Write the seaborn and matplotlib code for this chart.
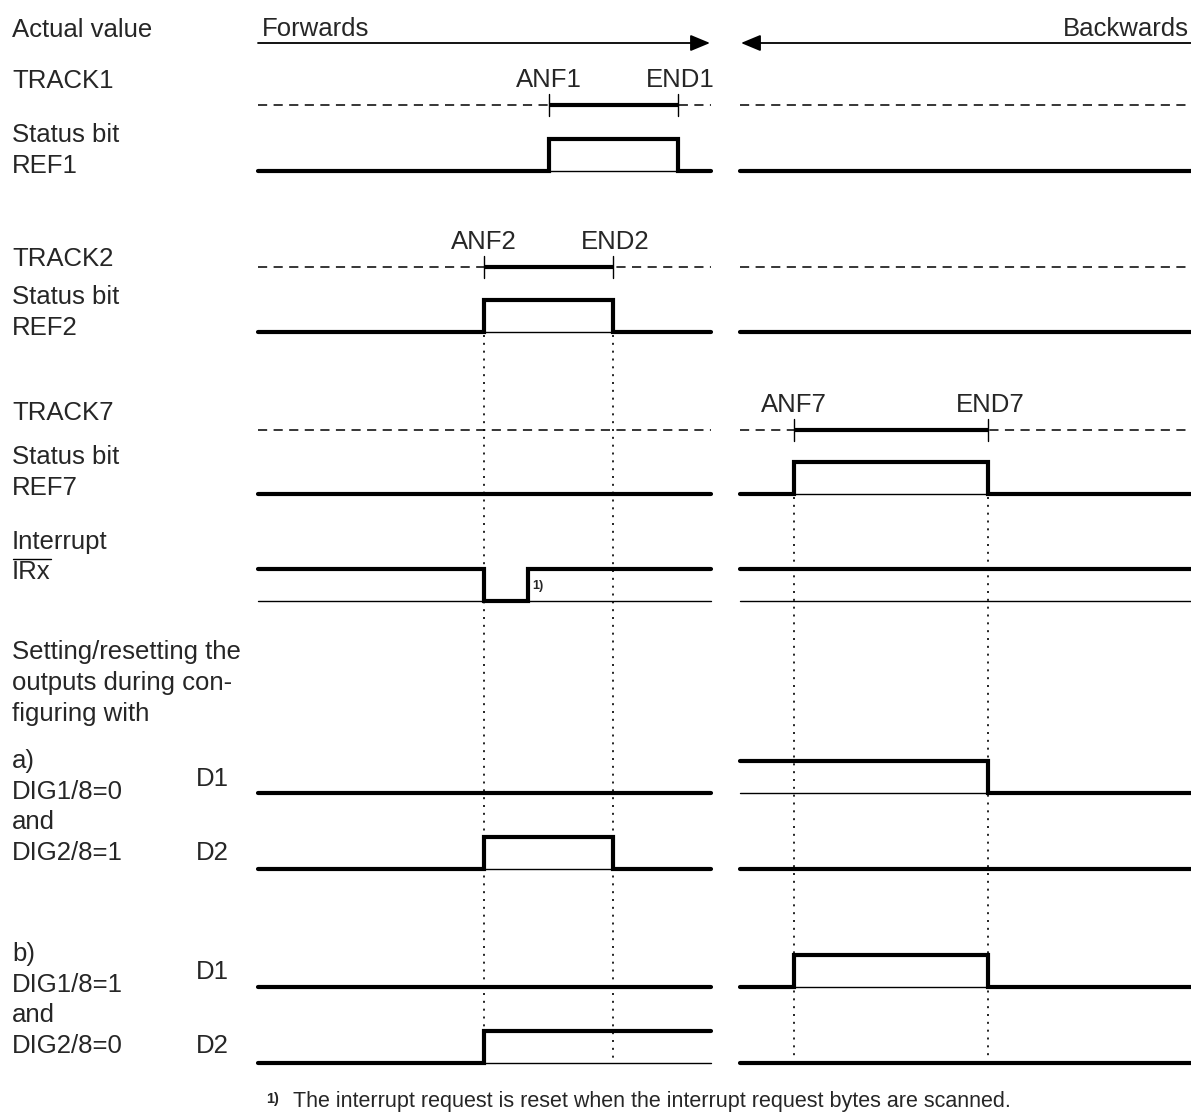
"""
Timing diagram: status bits REF1/REF2/REF7, interrupt IRx and outputs D1/D2.
"""

import matplotlib
matplotlib.use("Agg")
import matplotlib.pyplot as plt
import seaborn as sns
import pandas as pd

# --- data -----------------------------------------------------------------
seg_left = [258, 711]      # forwards travel
seg_right = [740, 1191]    # backwards travel

track_names = ["TRACK1", "TRACK2", "TRACK7"]
track_y = [105, 267, 430]
track_start = [549, 484, 794]
track_end = [678, 613, 988]
track_start_label = ["ANF1", "ANF2", "ANF7"]
track_end_label = ["END1", "END2", "END7"]

signal_names = ["REF1", "REF2", "REF7", "IRx", "a_D1", "a_D2", "b_D1", "b_D2"]
signal_low_y = [171, 332, 494, 601, 793, 869, 987, 1063]
left_start = [0, 0, 0, 1, 0, 0, 0, 0]
left_edges = [[549, 678], [484, 613], [], [484, 528], [], [484, 613], [], [484]]
right_start = [0, 0, 0, 1, 1, 0, 0, 0]
right_edges = [[], [], [794, 988], [], [988], [], [794, 988], []]
high_height = 32

dotted_x = [484, 613, 794, 988]
dotted_top = [335, 335, 497, 497]
dotted_bottom = 1063

THICK = 3.0
THIN = 1.0
FS = 18.5

sns.set_style("white")
plt.rcParams["font.family"] = ["Liberation Sans", "DejaVu Sans"]

fig = plt.figure(figsize=(11.91, 11.18), dpi=100)
ax = fig.add_axes([0, 0, 1, 1])
ax.set_xlim(0, 1191)
ax.set_ylim(1118, 0)
ax.axis("off")


def step_frame(seg, start, edges, low_y):
    xs = [seg[0]] + list(edges) + [seg[1]]
    lv = [start]
    for _ in edges:
        lv.append(1 - lv[-1])
    lv.append(lv[-1])
    return pd.DataFrame({"x": xs, "y": [low_y - high_height * v for v in lv]})


# dotted guide lines
for x, top in zip(dotted_x, dotted_top):
    ax.plot([x, x], [top, dotted_bottom], color="black", lw=1.2,
            linestyle=(0, (1.2, 3.5)), zorder=1)

# waveforms
for i, name in enumerate(signal_names):
    y0 = signal_low_y[i]
    for seg, start, edges in ((seg_left, left_start[i], left_edges[i]),
                              (seg_right, right_start[i], right_edges[i])):
        ax.plot(seg, [y0, y0], color="black", lw=THIN, zorder=2)
        df = step_frame(seg, start, edges, y0)
        sns.lineplot(data=df, x="x", y="y", ax=ax, color="black", lw=THICK,
                     drawstyle="steps-post", estimator=None, sort=False,
                     legend=False, zorder=3, solid_joinstyle="miter")

# tracks (dashed) with the ANF..END window
for i in range(len(track_names)):
    y = track_y[i]
    for seg in (seg_left, seg_right):
        ax.plot(seg, [y, y], color="black", lw=1.1, dashes=(6, 4.2), zorder=2)
    x0, x1 = track_start[i], track_end[i]
    ax.plot([x0, x1], [y, y], color="black", lw=THICK, solid_capstyle="butt",
            zorder=3)
    for x in (x0, x1):
        ax.plot([x, x], [y - 11, y + 11], color="black", lw=THIN, zorder=3)
    ax.text(x0, y - 18, track_start_label[i], ha="center", va="baseline",
            fontsize=FS)
    ax.text(x1 + 2, y - 18, track_end_label[i], ha="center", va="baseline",
            fontsize=FS)

# direction arrows
ax.annotate("", xy=(710, 43), xytext=(258, 43),
            arrowprops=dict(arrowstyle="-|>,head_length=1.2,head_width=0.5",
                            color="black", lw=1.3, shrinkA=0, shrinkB=0))
ax.annotate("", xy=(741, 43), xytext=(1191, 43),
            arrowprops=dict(arrowstyle="-|>,head_length=1.2,head_width=0.5",
                            color="black", lw=1.3, shrinkA=0, shrinkB=0))
ax.text(262, 36, "Forwards", fontsize=FS, va="baseline")
ax.text(1189, 36, "Backwards", fontsize=FS, va="baseline", ha="right")

# left-hand labels (text, x, baseline y)
labels = [
    ("Actual value", 12, 37),
    ("TRACK1", 12, 88),
    ("Status bit", 12, 142),
    ("REF1", 12, 173),
    ("TRACK2", 12, 266),
    ("Status bit", 12, 304),
    ("REF2", 12, 335),
    ("TRACK7", 12, 420),
    ("Status bit", 12, 464),
    ("REF7", 12, 495),
    ("Interrupt", 12, 549),
    ("Setting/resetting the", 12, 659),
    ("outputs during con-", 12, 690),
    ("figuring with", 12, 721),
    ("a)", 12, 768),
    ("DIG1/8=0", 12, 799),
    ("and", 12, 829),
    ("DIG2/8=1", 12, 860),
    ("D1", 196, 786),
    ("D2", 196, 860),
    ("b)", 12, 961),
    ("DIG1/8=1", 12, 992),
    ("and", 12, 1022),
    ("DIG2/8=0", 12, 1053),
    ("D1", 196, 979),
    ("D2", 196, 1053),
]
for txt, x, y in labels:
    ax.text(x, y, txt, fontsize=FS, va="baseline")

# IRx with overline
irx = ax.text(12, 579, "IRx", fontsize=FS, va="baseline")
fig.canvas.draw()
bb = irx.get_window_extent().transformed(ax.transData.inverted())
ax.plot([bb.x0 + 1, bb.x1], [559, 559], color="black", lw=1.0)

# footnote marks
ax.text(532, 589, "1)", fontsize=9, fontweight="bold", va="baseline")
ax.text(266, 1103, "1)", fontsize=10.5, fontweight="bold", va="baseline")
ax.text(293, 1107, "The interrupt request is reset when the interrupt request "
        "bytes are scanned.", fontsize=15.5, va="baseline")

fig.savefig("out.png", dpi=100)
